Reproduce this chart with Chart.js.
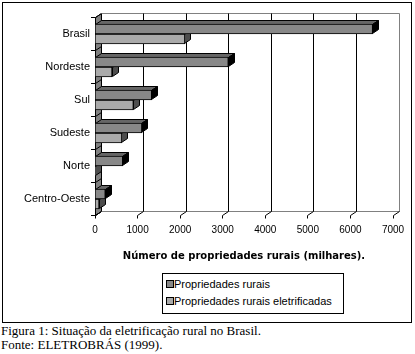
<!DOCTYPE html>
<html>
<head>
<meta charset="utf-8">
<script src="https://cdn.jsdelivr.net/npm/chart.js@4/dist/chart.umd.min.js"></script>
<style>
html,body{margin:0;padding:0;background:#fff;}
body{width:415px;height:354px;position:relative;overflow:hidden;}
#frame{position:absolute;left:2px;top:2px;width:410px;height:321px;box-sizing:border-box;border:1px solid #000;}
#c{position:absolute;left:0;top:0;}
#legend{position:absolute;left:162px;top:273px;width:182px;height:41px;box-sizing:border-box;border:1px solid #000;font:11px "Liberation Sans",Arial,sans-serif;color:#000;}
.item{position:absolute;left:11px;height:14px;line-height:14px;white-space:nowrap;}
.sw{position:absolute;left:3px;width:8px;height:8px;box-sizing:border-box;border:1px solid #000;}
#caption{position:absolute;left:1px;top:324px;font:13px/14px "Liberation Serif","Times New Roman",serif;color:#000;white-space:nowrap;}
</style>
</head>
<body>
<div id="frame"></div>
<canvas id="c" width="415" height="262"></canvas>
<div id="legend"></div>
<div id="caption"></div>
<script>
// ---- data ----
const categories = ['Brasil', 'Nordeste', 'Sul', 'Sudeste', 'Norte', 'Centro-Oeste'];
const propriedadesRurais = [6520, 3130, 1330, 1100, 650, 240];
const propriedadesEletrificadas = [2110, 400, 900, 630, 10, 95];
const seriesNames = ['Propriedades rurais', 'Propriedades rurais eletrificadas'];
const xTickValues = [0, 1000, 2000, 3000, 4000, 5000, 6000, 7000];
const axisTitle = 'Número de propriedades rurais (milhares).';
const captionLines = ['Figura 1: Situação da eletrificação rural no Brasil.', 'Fonte: ELETROBRÁS (1999).'];

// ---- styling ----
const seriesFront = ['#888888', '#aaaaaa'];
const seriesTop = ['#666666', '#808080'];
const seriesSide = ['#000000', '#4d4d4d'];
const WDX = 6, WDY = 4;   // wall depth offset
const BDX = 6, BDY = 4;   // bar depth offset
const FONT = '"Liberation Sans", Arial, sans-serif';

function poly(ctx, pts, fill, stroke) {
  ctx.beginPath();
  ctx.moveTo(pts[0][0], pts[0][1]);
  for (let i = 1; i < pts.length; i++) ctx.lineTo(pts[i][0], pts[i][1]);
  ctx.closePath();
  if (fill) { ctx.fillStyle = fill; ctx.fill(); }
  if (stroke) { ctx.strokeStyle = stroke; ctx.lineWidth = 1; ctx.stroke(); }
}
function line(ctx, x1, y1, x2, y2, color) {
  ctx.beginPath(); ctx.moveTo(x1, y1); ctx.lineTo(x2, y2);
  ctx.strokeStyle = color; ctx.lineWidth = 1; ctx.stroke();
}
const px = v => Math.floor(v) + 0.5;

const depthPlugin = {
  id: 'depth3d',
  beforeDatasetsDraw(chart) {
    const ctx = chart.ctx;
    const {left, top, bottom} = chart.chartArea;
    const xs = chart.scales.x, ys = chart.scales.y;
    const L = px(left), T = px(top), B = px(bottom);
    const band = ys.getPixelForValue(1) - ys.getPixelForValue(0);
    ctx.save();
    // left wall
    poly(ctx, [[L, T], [L + WDX, T - WDY], [L + WDX, B - WDY], [L, B]], '#808080', '#000');
    for (let i = 0; i <= categories.length; i++) {
      const yb = px(ys.getPixelForValue(i) - band / 2);
      line(ctx, L, yb, L + WDX, yb - WDY, '#000');
    }
    // back wall grid lines and floor
    const xMax = px(xs.getPixelForValue(xTickValues[xTickValues.length - 1]));
    line(ctx, L + WDX, T - WDY, xMax + WDX, T - WDY, '#808080');
    line(ctx, L + WDX, B - WDY, xMax + WDX, B - WDY, '#808080');
    xTickValues.forEach((v, i) => {
      const X = px(xs.getPixelForValue(v));
      if (i > 0) line(ctx, X + WDX, T - WDY, X + WDX, B - WDY, i === xTickValues.length - 1 ? '#808080' : '#000');
      line(ctx, X + WDX, B - WDY, X, B, '#000');
      line(ctx, X, B, X, B + 3, '#000');
    });
    // bar depth faces (bottom categories first, lower bars first)
    for (let i = categories.length - 1; i >= 0; i--) {
      for (let d = chart.data.datasets.length - 1; d >= 0; d--) {
        const el = chart.getDatasetMeta(d).data[i];
        const p = el.getProps(['x', 'y', 'base', 'height'], true);
        const x0 = px(Math.min(p.x, p.base));
        const x1 = px(Math.max(p.x, p.base));
        const ft = px(p.y - p.height / 2);
        const fb = Math.ceil(p.y + p.height / 2) - 0.5;
        poly(ctx, [[x0, ft], [x0 + BDX, ft - BDY], [x1 + BDX, ft - BDY], [x1, ft]], seriesTop[d], '#000');
        poly(ctx, [[x1, ft], [x1 + BDX, ft - BDY], [x1 + BDX, fb - BDY], [x1, fb]], seriesSide[d], '#000');
      }
    }
    ctx.restore();
  }
};

new Chart(document.getElementById('c'), {
  type: 'bar',
  data: {
    labels: categories,
    datasets: [
      {label: seriesNames[0], data: propriedadesRurais, backgroundColor: seriesFront[0], borderColor: '#000', borderWidth: 1, borderSkipped: false, barThickness: 10},
      {label: seriesNames[1], data: propriedadesEletrificadas, backgroundColor: seriesFront[1], borderColor: '#000', borderWidth: 1, borderSkipped: false, barThickness: 10}
    ]
  },
  options: {
    indexAxis: 'y',
    responsive: false,
    animation: false,
    devicePixelRatio: 1,
    events: [],
    layout: {padding: {left: 0, top: 17.5, right: 22, bottom: 0}},
    plugins: {legend: {display: false}, tooltip: {enabled: false}},
    scales: {
      x: {
        type: 'linear', min: 0, max: 7000,
        afterBuildTicks: s => { s.ticks = xTickValues.map(v => ({value: v})); },
        afterFit: s => { s.height = 46.5; },
        grid: {display: false, drawTicks: false},
        border: {display: false},
        ticks: {font: {family: FONT, size: 10}, color: '#000', padding: 9, maxRotation: 0, autoSkip: false, callback: v => String(v)},
        title: {display: true, text: axisTitle, color: '#000', font: {family: '"DejaVu Sans", Verdana, sans-serif', size: 10, weight: 'bold'}, padding: {top: 0, bottom: 0}}
      },
      y: {
        afterFit: s => { s.width = 95; },
        grid: {display: true, drawOnChartArea: false, drawTicks: true, tickLength: 4, color: '#000', offset: true},
        border: {display: true, color: '#000', width: 1},
        ticks: {font: {family: FONT, size: 11}, color: '#000', padding: 1, autoSkip: false}
      }
    }
  },
  plugins: [depthPlugin]
});

// legend (HTML, bordered box)
const legend = document.getElementById('legend');
const itemTops = [3, 20];
seriesNames.forEach((name, i) => {
  const sw = document.createElement('div');
  sw.className = 'sw';
  sw.style.top = (itemTops[i] + 3) + 'px';
  sw.style.background = seriesFront[i];
  legend.appendChild(sw);
  const it = document.createElement('div');
  it.className = 'item';
  it.style.top = itemTops[i] + 'px';
  it.textContent = name;
  legend.appendChild(it);
});
document.getElementById('caption').innerHTML = captionLines.map(s => s.replace(/&/g, '&amp;')).join('<br>');
</script>
</body>
</html>
